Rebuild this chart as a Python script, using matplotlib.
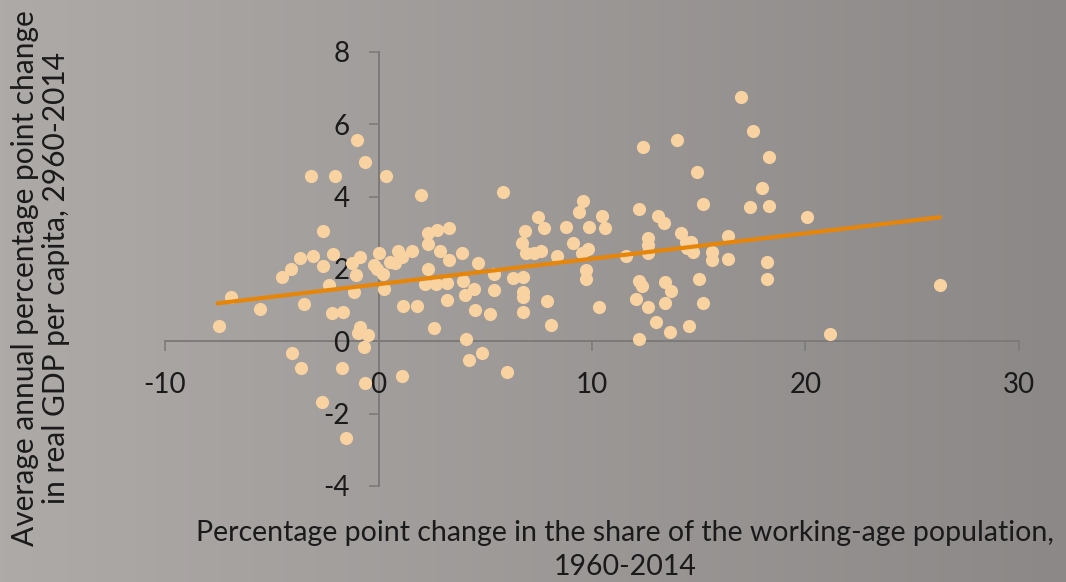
import numpy as np
import matplotlib
matplotlib.use("Agg")
import matplotlib.pyplot as plt
from matplotlib.colors import LinearSegmentedColormap

# working-age share change (x) vs GDP per capita growth (y)
pop_change = [
    -7.49, -6.89, -5.57, -4.50, -4.12, -3.70, -3.51, -3.14, -3.09, -2.62,
    -2.58, -2.30, -2.20, -2.15, -2.06, -1.64, -1.22, -1.17, -1.05, -1.03,
    -0.89, -0.89, -0.98, -0.47, -0.66, -1.69, -4.03, -3.61, -0.61, -2.67,
    -1.50, -0.61, 0.00, -0.23, -0.09, 0.23, 0.28, 0.56, 0.89, 0.75,
    1.12, 1.55, 0.33, 2.30, 2.30, 2.34, 2.72, 2.86, 3.28, 3.28,
    2.01, 1.17, 1.78, 2.58, 2.20, 2.67, 3.23, 1.12, 3.23, 3.89,
    4.64, 3.98, 4.45, 4.03, 5.39, 5.39, 6.28, 6.79, 6.79, 6.79,
    6.79, 7.87, 8.10, 9.74, 9.74, 4.50, 5.20, 4.12, 4.87, 4.22,
    6.04, 5.85, 9.60, 9.41, 7.45, 7.73, 6.84, 8.76, 6.74, 9.09,
    6.89, 7.26, 7.63, 8.34, 9.51, 9.79, 9.88, 10.49, 10.63, 10.35,
    11.57, 12.41, 13.96, 14.94, 15.22, 17.00, 12.22, 13.07, 13.35, 14.15,
    12.60, 12.60, 12.60, 14.38, 14.66, 14.47, 14.75, 15.60, 15.60, 16.35,
    16.35, 12.22, 12.32, 12.08, 12.60, 13.44, 13.72, 13.40, 14.99, 15.18,
    13.02, 13.63, 14.52, 12.22, 17.56, 18.31, 17.94, 17.38, 18.31, 20.09,
    18.22, 18.22, 26.28, 21.17,
]
gdp_growth = [
    0.42, 1.22, 0.89, 1.77, 1.99, 2.30, 1.02, 4.57, 2.35, 3.05,
    2.08, 1.55, 0.78, 2.41, 4.57, 0.80, 2.16, 1.36, 1.83, 5.57,
    2.33, 0.39, 0.22, 0.17, -0.17, -0.75, -0.33, -0.75, -1.16, -1.69,
    -2.66, 4.96, 2.44, 2.11, 1.99, 1.86, 1.44, 2.19, 2.49, 2.16,
    2.33, 2.49, 4.57, 1.99, 2.69, 2.99, 3.07, 2.49, 2.24, 3.13,
    4.04, 0.97, 0.97, 0.36, 1.58, 1.58, 1.14, -0.97, 1.61, 2.44,
    2.16, 1.66, 1.44, 1.27, 1.86, 1.41, 1.74, 1.77, 1.36, 1.22,
    0.80, 1.11, 0.44, 1.97, 1.72, 0.86, 0.75, 0.06, -0.33, -0.53,
    -0.86, 4.13, 3.88, 3.57, 3.43, 3.13, 3.05, 3.16, 2.71, 2.71,
    2.44, 2.44, 2.49, 2.35, 2.44, 2.55, 3.16, 3.46, 3.13, 0.94,
    2.35, 5.37, 5.57, 4.68, 3.80, 6.76, 3.66, 3.46, 3.27, 2.99,
    2.85, 2.66, 2.44, 2.74, 2.74, 2.58, 2.47, 2.47, 2.24, 2.91,
    2.27, 1.66, 1.52, 1.16, 0.94, 1.63, 1.38, 1.05, 1.72, 1.05,
    0.53, 0.25, 0.42, 0.06, 5.82, 5.10, 4.24, 3.71, 3.74, 3.43,
    2.19, 1.72, 1.55, 0.19,
]

# linear trendline end points
trend_x = [-7.54, 26.3]
trend_y = [1.05, 3.43]

x_ticks = [-10, 0, 10, 20, 30]
y_ticks = [-4, -2, 0, 2, 4, 6, 8]

plt.rcParams["font.family"] = ["Lato", "DejaVu Sans"]
text_color = "#1a1a1a"
axis_color = "#7d7b7a"

fig = plt.figure(figsize=(10.66, 5.82), dpi=100)

# grey left-to-right gradient background
bg = fig.add_axes([0, 0, 1, 1], zorder=-10)
grad = LinearSegmentedColormap.from_list("bg", ["#aeaaa8", "#8c8887"])
bg.imshow(np.linspace(0, 1, 256)[None, :], aspect="auto", cmap=grad,
          extent=[0, 1, 0, 1])
bg.set_axis_off()

ax = fig.add_axes([0.1548, 0.165, 0.8011, 0.7457])
ax.patch.set_alpha(0)
ax.scatter(pop_change, gdp_growth, s=90, color="#f8d2a0", linewidths=0,
           zorder=3)
ax.plot(trend_x, trend_y, color="#e5860b", lw=3, solid_capstyle="round",
        zorder=4)

ax.set_xlim(-10, 30)
ax.set_ylim(-4, 8)
ax.set_xticks(x_ticks)
ax.set_yticks(y_ticks)
ax.set_xticklabels([str(v) for v in x_ticks])
ax.set_yticklabels([str(v) for v in y_ticks])

for side in ["top", "right"]:
    ax.spines[side].set_visible(False)
ax.spines["left"].set_position(("data", 0))
ax.spines["bottom"].set_position(("data", 0))
for side in ["left", "bottom"]:
    ax.spines[side].set_color(axis_color)
    ax.spines[side].set_linewidth(1.4)
    ax.spines[side].set_zorder(1)

ax.tick_params(axis="both", direction="out", length=7, width=1.2,
               color=axis_color, labelsize=20, labelcolor=text_color)
ax.tick_params(axis="y", pad=14)
ax.tick_params(axis="x", pad=15)

fig.text(0.038, 0.522,
         "Average annual percentage point change\nin real GDP per capita, 2960-2014",
         rotation=90, ha="center", va="center", fontsize=21.5,
         color=text_color, linespacing=1.15)
fig.text(0.586, 0.055,
         "Percentage point change in the share of the working-age population,\n1960-2014",
         ha="center", va="center", fontsize=20.5,
         color=text_color, linespacing=1.4)

fig.savefig("out.png", dpi=100)
